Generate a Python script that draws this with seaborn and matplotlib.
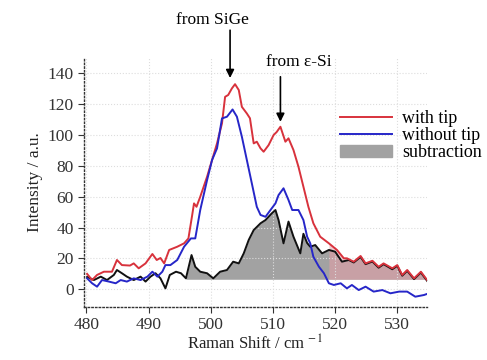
import numpy as np
import matplotlib
matplotlib.use("Agg")
import matplotlib.pyplot as plt
import seaborn as sns

# with tip (red)
tip_x = [480.1, 480.9, 481.7, 482.8, 484.1, 484.9, 485.7, 487.0, 487.6, 488.4, 489.5, 490.6,
         491.3, 491.9, 492.5, 493.3, 494.6, 495.7, 496.4, 497.0, 497.3, 497.7, 498.3, 499.4,
         500.2, 501.0, 501.8, 502.3, 502.8, 503.4, 503.9, 504.5, 505.0, 505.8, 506.3, 506.9,
         507.4, 508.0, 508.5, 509.3, 510.1, 510.6, 511.2, 512.0, 512.5, 513.3, 514.1, 514.9,
         515.7, 516.5, 517.6, 519.0, 520.3, 521.4, 521.9, 523.0, 524.1, 524.9, 526.0, 527.0,
         527.8, 529.2, 530.0, 530.8, 531.6, 532.7, 533.8, 534.8]
tip_y = [10, 6, 9.3, 11.4, 11.4, 19, 15.7, 15.4, 16.8, 13.6, 16.8, 22.9,
         19, 20.3, 16.8, 25.5, 27.6, 29.8, 33, 48, 55.7, 53.5, 60, 73,
         83.8, 94.6, 107.6, 124.8, 126, 130.3, 133, 129.2, 118.3, 114, 110.9, 94.6,
         95.7, 91.4, 89.2, 93.5, 100, 102, 105.4, 95.7, 97.9, 90.3, 79.5, 66.5,
         53.5, 42.8, 34.1, 29.8, 25.5, 20.1, 20.1, 17.9, 21.6, 16.8, 18.5, 14.6,
         16.8, 13.6, 15.7, 9.3, 12.5, 7.1, 11.4, 6.0]

# without tip (blue)
notip_x = [480.1, 480.9, 481.7, 482.5, 483.6, 484.7, 485.5, 486.5, 487.6, 488.7, 489.8, 490.6,
           491.4, 492.2, 492.7, 493.5, 494.6, 495.7, 496.8, 497.5, 498.3, 499.4, 500.2, 501.0,
           501.8, 502.6, 503.5, 504.2, 505.0, 505.8, 506.6, 507.4, 508.0, 508.8, 509.6, 510.4,
           510.9, 511.7, 512.5, 513.1, 514.1, 514.9, 515.5, 516.0, 516.5, 517.4, 518.2, 519.0,
           519.8, 520.9, 521.9, 522.7, 523.8, 524.9, 526.2, 527.6, 528.9, 530.3, 531.6, 532.9,
           534.3, 534.8]
notip_y = [7.1, 3.9, 1.7, 6, 5, 3.9, 6, 5, 7.1, 6, 8.2, 11.4,
           8.2, 11.4, 15.7, 15.7, 19, 27.6, 33, 33, 51.4, 70.8, 83.8, 91.4,
           110.8, 111.9, 116.6, 111.9, 98.9, 83.8, 68.7, 53.5, 48.2, 47, 51.4, 55.7,
           61.1, 65.5, 57.9, 51.4, 51.4, 44.9, 34.1, 29.8, 21.1, 14.6, 10.4, 3.9,
           2.8, 3.9, 0.6, 2.8, -0.5, 1.7, -1.5, -0.5, -2.6, -1.5, -1.5, -4.8,
           -3.7, -3.0]

# subtraction (black line, grey fill)
sub_x = [480.1, 481.2, 482.3, 483.3, 484.4, 484.9, 485.7, 486.5, 487.6, 488.7, 489.5, 490.3,
         491.1, 491.9, 492.7, 493.4, 494.4, 495.2, 496.0, 496.9, 497.5, 498.3, 499.4, 500.4,
         501.5, 502.6, 503.6, 504.5, 505.3, 506.1, 506.9, 508.0, 508.8, 509.8, 510.4, 510.9,
         511.7, 512.5, 513.3, 514.4, 514.9, 515.5, 516.0, 516.8, 517.9, 519.0, 520.0, 521.1,
         522.2, 523.0, 524.1, 524.9, 526.0, 527.0, 527.8, 529.2, 530.0, 530.8, 531.6, 532.7,
         533.8, 534.8]
sub_y = [8, 6, 8.2, 6, 9.3, 12.5, 10.4, 8.2, 6, 8.2, 5, 8.2,
         10.4, 7.1, 0.6, 9.3, 11.4, 10.4, 7.1, 22.2, 14.6, 11.4, 10.4, 7.1,
         11.4, 12.5, 17.9, 16.8, 23.3, 32, 38.4, 42.8, 44.9, 49.2, 51.4, 44.9,
         29.8, 43.9, 34.1, 23.3, 36, 30, 27.6, 28.7, 23.3, 25.5, 24.4, 17.9,
         19, 17.4, 21, 16.3, 18, 14, 16.3, 13, 15.2, 8.8, 12, 6.6,
         10.9, 5.5]
base = 6.5

plt.rcParams['font.family'] = ['Liberation Serif', 'DejaVu Serif']
plt.rcParams['mathtext.fontset'] = 'stix'

fig = plt.figure(figsize=(4.87, 3.6), dpi=100)
ax = fig.add_axes([0.1725, 0.148, 0.7045, 0.691])

sx = np.array(sub_x)
sy = np.array(sub_y)
tx = np.array(tip_x)
ty = np.array(tip_y)
ax.fill_between(sx, base, sy, where=sx >= 496.3, interpolate=True,
                color='#a2a2a2', linewidth=0, zorder=1)
ax.fill_between(tx, base, ty, where=tx >= 518.5, interpolate=True,
                color='#e8a0a8', alpha=0.55, linewidth=0, zorder=1.5)

sns.lineplot(x=tip_x, y=tip_y, ax=ax, color='#d8323c', linewidth=1.4,
             label='with tip', zorder=3, sort=False)
sns.lineplot(x=notip_x, y=notip_y, ax=ax, color='#2626c8', linewidth=1.4,
             label='without tip', zorder=3, sort=False)
sns.lineplot(x=sub_x, y=sub_y, ax=ax, color='#111111', linewidth=1.4,
             zorder=2.5, sort=False, legend=False)

ax.set_xlim(479.6, 534.8)
ax.set_ylim(-11.3, 150)
ax.set_xticks([480, 490, 500, 510, 520, 530])
ax.set_yticks([0, 20, 40, 60, 80, 100, 120, 140])
ax.grid(True, color='#dddddd', linestyle=':', linewidth=0.8)
for side in ['top', 'right']:
    ax.spines[side].set_visible(False)
for side in ['left', 'bottom']:
    ax.spines[side].set_linestyle(':')
    ax.spines[side].set_color('#333333')
    ax.spines[side].set_linewidth(1.0)
ax.tick_params(direction='out', length=4, width=0.8, labelsize=12.5, colors='#333333')
ax.set_xlabel(r'Raman Shift / cm$^{\,-1}$', fontsize=12, color='#222222', labelpad=1)
ax.set_ylabel('Intensity / a.u.', fontsize=12.5, color='#222222', labelpad=3)

ax.annotate('', xy=(503.1, 137), xytext=(503.1, 168), annotation_clip=False,
            arrowprops=dict(arrowstyle='-|>', color='black', lw=1.2, shrinkA=0, shrinkB=0,
                            mutation_scale=12))
ax.text(500.2, 174.5, 'from SiGe', ha='center', va='center', fontsize=12.5, clip_on=False)
ax.annotate('', xy=(511.2, 108.6), xytext=(511.2, 137.8), annotation_clip=False,
            arrowprops=dict(arrowstyle='-|>', color='black', lw=1.2, shrinkA=0, shrinkB=0,
                            mutation_scale=12))
ax.text(514.2, 147.5, 'from \u03b5-Si', ha='center', va='center', fontsize=12.5, clip_on=False)

handles, labels = ax.get_legend_handles_labels()
handles.append(plt.Rectangle((0, 0), 1, 1, color='#a2a2a2'))
labels.append('subtraction')
ax.legend(handles, labels, loc='upper left', bbox_to_anchor=(0.683, 0.714),
          bbox_transform=fig.transFigure, frameon=False, fontsize=13,
          handlelength=2.9, handletextpad=0.55, labelspacing=0.0, borderaxespad=0)

fig.savefig('out.png', dpi=100)
